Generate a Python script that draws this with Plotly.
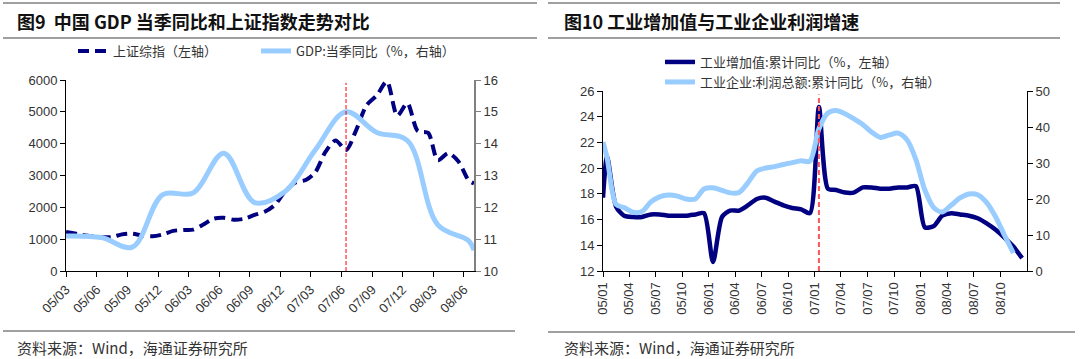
import plotly.graph_objects as go
import pandas as pd

W, H = 1080, 359

# ---------------- data: left panel ----------------
sh_dates = (["2005-03-01"]
            + [d.strftime("%Y-%m-15") for d in pd.date_range("2005-03-01", "2008-06-01", freq="MS")]
            + ["2008-07-01"])
sh_values = [1225,
             1200, 1140, 1090, 1060, 1065, 1150, 1170, 1110, 1090, 1150,
             1260, 1290, 1300, 1460, 1640, 1670, 1610, 1640, 1760, 1860, 2080, 2500,
             2780, 2860, 3100, 3750, 4100, 3800, 4420, 5200, 5520, 5950, 4880, 5270,
             4400, 4340, 3480, 3700, 3450, 2850,
             2750]

gdp_dates = ["2005-03-01", "2005-06-15", "2005-09-15", "2005-12-15",
             "2006-03-15", "2006-06-15", "2006-09-15", "2006-12-15",
             "2007-03-15", "2007-06-15", "2007-09-15", "2007-12-15",
             "2008-03-15", "2008-06-15", "2008-07-01"]
gdp_values = [11.1, 11.05, 10.75, 12.4, 12.45, 13.7, 12.15, 12.5,
              13.8, 15.0, 14.35, 14.1, 11.45, 10.95, 10.65]

left_ticks = [d.strftime("%Y-%m-01") for d in pd.date_range("2005-03-01", "2008-06-01", freq="3MS")]
left_ticktext = [d.strftime("%y/%m") for d in pd.date_range("2005-03-01", "2008-06-01", freq="3MS")]
left_event = "2007-06-15"

# ---------------- data: right panel ----------------
iva_dates = ["2005-01-01"] + [d.strftime("%Y-%m-15") for d in pd.date_range("2005-01-01", "2008-12-01", freq="MS")]
iva_values = [17.7,
              20.9, 17.0, 16.3, 16.2, 16.2, 16.4, 16.4, 16.3, 16.3, 16.3, 16.4, 16.5,
              12.7, 16.2, 16.7, 16.7, 17.1, 17.6, 17.7, 17.4, 17.1, 16.9, 16.8, 16.5,
              24.75, 18.4, 18.3, 18.1, 18.1, 18.5, 18.5, 18.4, 18.4, 18.5, 18.5, 18.6,
              15.4, 15.5, 16.3, 16.5, 16.4, 16.3, 16.1, 15.7, 15.2, 14.6, 13.9, 13.0]

profit_dates = ["2005-01-01"] + [d.strftime("%Y-%m-15") for d in pd.date_range("2005-01-01", "2008-11-01", freq="MS")]
profit_values = [35.8,
                 31.5, 18.5, 17.6, 16.3, 16.5, 19.2, 20.6, 21.1, 20.8, 20.0, 20.0, 22.8,
                 23.1, 22.4, 21.7, 21.8, 24.5, 27.8, 28.6, 29.0, 29.6, 30.1, 30.6, 30.5,
                 39.5, 43.9, 44.6, 43.7, 42.3, 40.7, 38.6, 37.1, 37.8, 38.3, 36.4, 31.0,
                 22.5, 17.6, 16.4, 18.3, 20.3, 21.4, 21.2, 19.0, 15.0, 10.0, 5.0]

right_ticks = [d.strftime("%Y-%m-01") for d in pd.date_range("2005-01-01", "2008-10-01", freq="3MS")]
right_ticktext = [d.strftime("%y/%m") for d in pd.date_range("2005-01-01", "2008-10-01", freq="3MS")]
right_event = "2007-01-15"

# ---------------- styling ----------------
NAVY = "#000080"
LBLUE = "#99CCFF"
TXT = "#333333"
NUMFONT = "Liberation Sans, Arial, sans-serif"
CJK = "Noto Sans CJK SC, sans-serif"


def px(x):
    return x / W


def py(y):
    return 1 - y / H


fig = go.Figure()

fig.add_trace(go.Scatter(x=sh_dates, y=sh_values, name="上证综指（左轴）", mode="lines",
                         line=dict(color=NAVY, width=4, dash="11px,6px", shape="spline", smoothing=0.8),
                         xaxis="x", yaxis="y", legend="legend", showlegend=True))
fig.add_trace(go.Scatter(x=gdp_dates, y=gdp_values, name="GDP:当季同比（%，右轴）", mode="lines",
                         line=dict(color=LBLUE, width=5, shape="spline", smoothing=1.0),
                         xaxis="x", yaxis="y2", legend="legend2", showlegend=True))
fig.add_trace(go.Scatter(x=iva_dates, y=iva_values, name="工业增加值:累计同比（%，左轴）", mode="lines",
                         line=dict(color=NAVY, width=4.5, shape="spline", smoothing=0.7),
                         xaxis="x3", yaxis="y3", legend="legend3", showlegend=True))
fig.add_trace(go.Scatter(x=profit_dates, y=profit_values, name="工业企业:利润总额:累计同比（%，右轴）", mode="lines",
                         line=dict(color=LBLUE, width=5, shape="spline", smoothing=0.8),
                         xaxis="x3", yaxis="y4", legend="legend4", showlegend=True))

tickfont = dict(family=NUMFONT, size=13, color=TXT)
common_x = dict(type="date", showgrid=False, zeroline=False, showline=True, linecolor="#000000",
                linewidth=1, ticks="outside", ticklen=5, tickcolor="#000000", tickfont=tickfont,
                automargin=False)
common_y = dict(showgrid=False, zeroline=False, showline=True, linecolor="#000000", linewidth=1,
                ticks="outside", ticklen=5, tickcolor="#000000", tickfont=tickfont, automargin=False)

legfont = dict(family=CJK, size=13, color=TXT)


def leg(x, y):
    return dict(x=px(x), y=py(y), xanchor="left", yanchor="middle", orientation="h",
                bgcolor="rgba(0,0,0,0)", borderwidth=0, font=legfont, itemwidth=30)


fig.update_layout(
    width=W, height=H, margin=dict(l=0, r=0, t=0, b=0, pad=0, autoexpand=False),
    paper_bgcolor="white", plot_bgcolor="white", showlegend=True,
    font=dict(family=NUMFONT, color=TXT),
    xaxis=dict(common_x, domain=[px(66), px(474)], range=["2005-03-01", "2008-07-01"],
               tickvals=left_ticks, ticktext=left_ticktext, tickangle=-45, anchor="y"),
    yaxis=dict(common_y, domain=[py(271), py(80)], range=[0, 6000], dtick=1000, anchor="x"),
    yaxis2=dict(common_y, overlaying="y", side="right", range=[10, 16], dtick=1, anchor="x",
                linecolor="#808080", linewidth=2, tickcolor="#808080"),
    xaxis3=dict(common_x, domain=[px(603), px(1027)], range=["2005-01-01", "2009-01-01"],
                tickvals=right_ticks, ticktext=right_ticktext, tickangle=-90, anchor="y3"),
    yaxis3=dict(common_y, domain=[py(271), py(91)], range=[12, 26], dtick=2, anchor="x3"),
    yaxis4=dict(common_y, overlaying="y3", side="right", range=[0, 50], dtick=10, anchor="x3"),
    legend=leg(73, 51),
    legend2=leg(256, 51),
    legend3=leg(660, 62),
    legend4=leg(660, 82),
)

# event lines
fig.add_shape(type="line", xref="x", yref="y domain", x0=left_event, x1=left_event, y0=0, y1=0.985,
              line=dict(color="#FF0000", width=1, dash="4px,2px"))
fig.add_shape(type="line", xref="x3", yref="y3 domain", x0=right_event, x1=right_event, y0=0, y1=0.98,
              line=dict(color="#FF5555", width=2, dash="5px,3px"))

# decorative rules
for (x0, x1, y) in [(3, 537, 3), (3, 537, 38), (3, 515, 331),
                    (548, 1060, 3), (548, 1060, 38), (548, 1075, 332)]:
    fig.add_shape(type="line", xref="paper", yref="paper", x0=px(x0), x1=px(x1), y0=py(y), y1=py(y),
                  line=dict(color="#808080", width=1.5))

# titles and sources
fig.add_annotation(text="<b>图9  中国 GDP 当季同比和上证指数走势对比</b>", x=px(15), y=py(21),
                   xref="paper", yref="paper", xanchor="left", yanchor="middle", showarrow=False,
                   font=dict(family=CJK, size=18, color="#111111"))
fig.add_annotation(text="<b>图10 工业增加值与工业企业利润增速</b>", x=px(562), y=py(21),
                   xref="paper", yref="paper", xanchor="left", yanchor="middle", showarrow=False,
                   font=dict(family=CJK, size=18, color="#111111"))
for xs in (15, 562):
    fig.add_annotation(text="资料来源：Wind，海通证券研究所", x=px(xs), y=py(347),
                       xref="paper", yref="paper", xanchor="left", yanchor="middle", showarrow=False,
                       font=dict(family=CJK, size=15, color=TXT))

fig.write_html("out.html", config={"displayModeBar": False},
               post_script="document.body.style.margin='0';document.body.style.overflow='hidden';")
